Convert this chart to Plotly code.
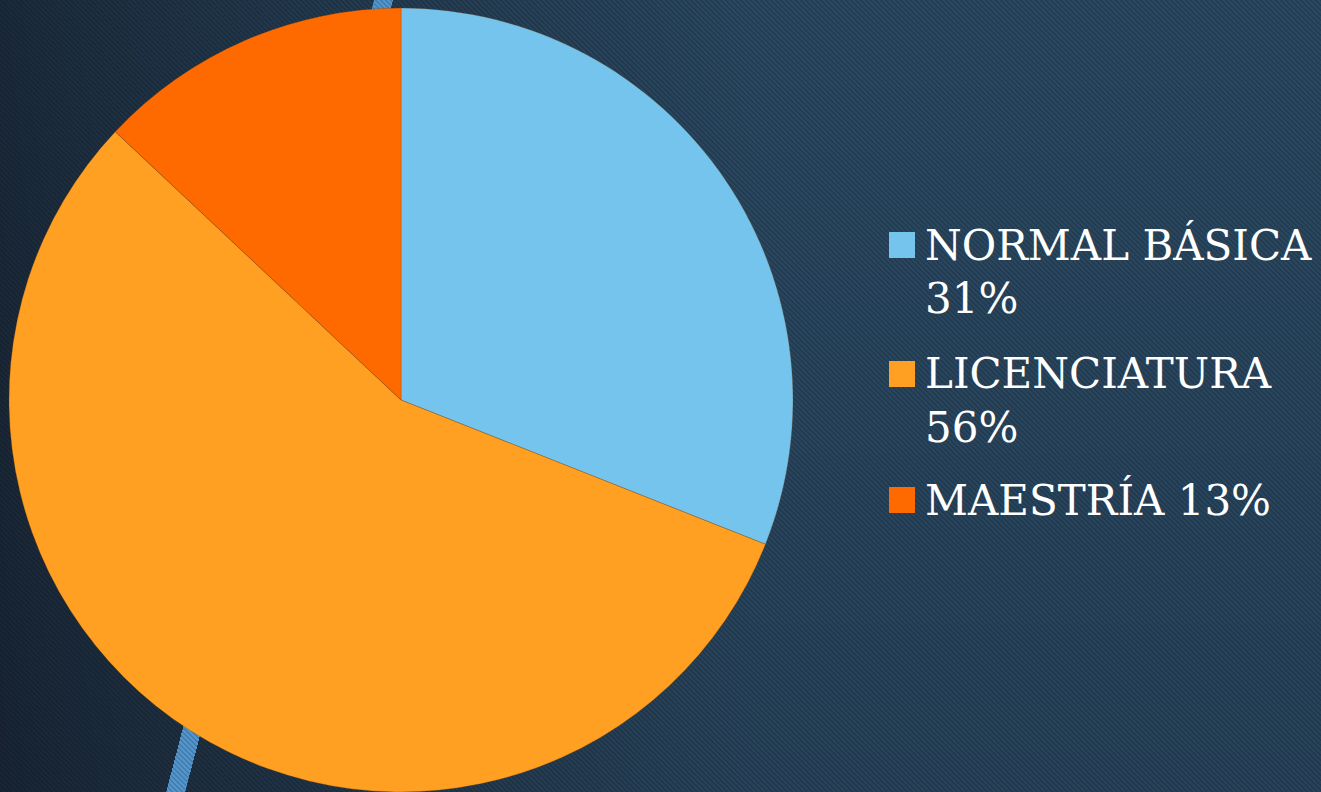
import base64
import struct
import zlib

import numpy as np
import plotly.graph_objs as go

# data
labels = ["NORMAL BÁSICA", "LICENCIATURA", "MAESTRÍA"]
values = [31, 56, 13]
legend_texts = ["NORMAL BÁSICA<br>31%", "LICENCIATURA<br>56%", "MAESTRÍA 13%"]
colors = ["#75c4ee", "#ffa022", "#ff6a00"]

W, H = 1321, 792


def png_data_uri(img):
    h, w, _ = img.shape
    raw = b"".join(b"\x00" + img[r].tobytes() for r in range(h))

    def chunk(tag, data):
        c = struct.pack(">I", len(data)) + tag + data
        return c + struct.pack(">I", zlib.crc32(tag + data) & 0xFFFFFFFF)

    png = b"\x89PNG\r\n\x1a\n"
    png += chunk(b"IHDR", struct.pack(">IIBBBBB", w, h, 8, 2, 0, 0, 0))
    png += chunk(b"IDAT", zlib.compress(raw, 9))
    png += chunk(b"IEND", b"")
    return "data:image/png;base64," + base64.b64encode(png).decode()


def background():
    yy, xx = np.mgrid[0:H, 0:W].astype(float)
    t = np.clip(xx / 750, 0, 1) ** 0.8 * 0.85 + 0.15 * (1 - yy / H)
    t = np.clip(t, 0, 1)[..., None]
    dark = np.array([25, 37, 52], float)
    light = np.array([42, 72, 97], float)
    img = dark + (light - dark) * t
    # light blue diagonal band
    xc = 383 - 208 * yy / H
    band = np.abs(xx - xc) < 9.5
    img[band] = [82, 148, 204]
    # fine diagonal hatch
    stripe = ((xx - yy) % 5) < 2
    img[stripe] *= 0.84
    return png_data_uri(np.clip(img, 0, 255).astype(np.uint8))


fig = go.Figure(
    go.Pie(
        labels=labels,
        values=values,
        sort=False,
        direction="clockwise",
        rotation=0,
        textinfo="none",
        hoverinfo="label+percent",
        marker=dict(colors=colors, line=dict(color="rgba(120,60,0,0.35)", width=0.8)),
        domain=dict(x=[9 / W, 793 / W], y=[0, 784 / H]),
        showlegend=False,
    )
)

# custom legend with big square keys, one annotation per text line
tops = [228, 357, 483]
line_pitch = 54
for txt, col, top in zip(legend_texts, colors, tops):
    fig.add_shape(
        type="rect",
        xref="paper",
        yref="paper",
        x0=889 / W,
        x1=915 / W,
        y0=1 - (top + 30) / H,
        y1=1 - (top + 4) / H,
        fillcolor=col,
        line=dict(width=0),
    )
    for i, part in enumerate(txt.split("<br>")):
        fig.add_annotation(
            text=part,
            xref="paper",
            yref="paper",
            x=923 / W,
            y=1 - (top - 10 + i * line_pitch) / H,
            xanchor="left",
            yanchor="top",
            align="left",
            showarrow=False,
            font=dict(family="DejaVu Serif", size=42, color="white"),
        )

fig.update_layout(
    width=W,
    height=H,
    margin=dict(l=0, r=0, t=0, b=0),
    paper_bgcolor="#1f3346",
    plot_bgcolor="rgba(0,0,0,0)",
    images=[
        dict(
            source=background(),
            xref="paper",
            yref="paper",
            x=0,
            y=1,
            sizex=1,
            sizey=1,
            sizing="stretch",
            layer="below",
        )
    ],
)

fig.write_html(
    "out.html",
    config={"displayModeBar": False},
    post_script="document.body.style.margin='0';document.body.style.background='#1f3346';",
)
